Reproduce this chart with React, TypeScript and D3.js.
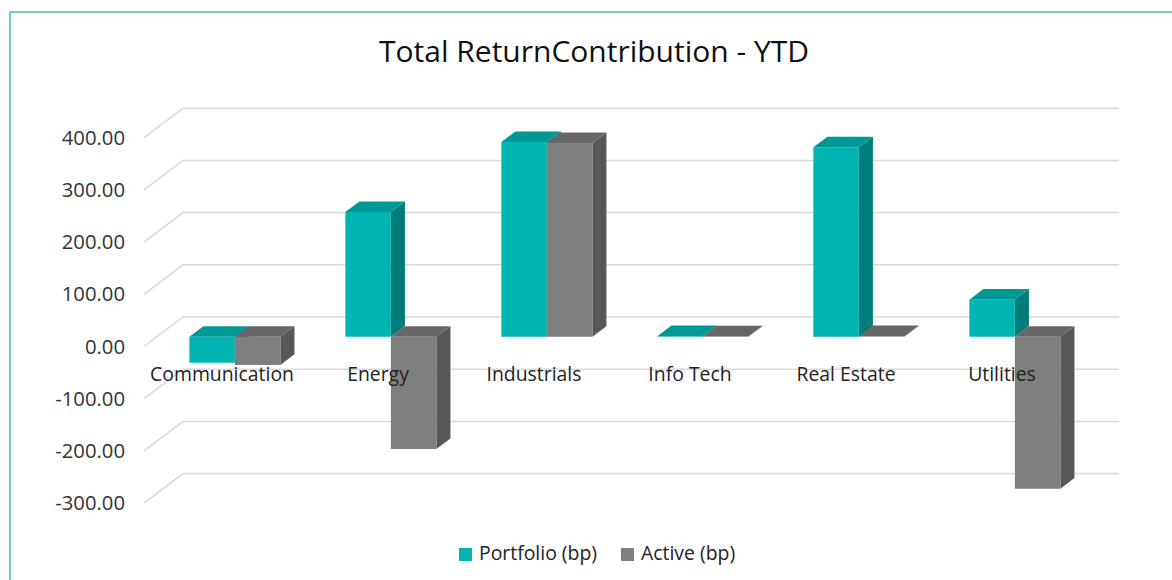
import React from "react";
import * as d3 from "d3";

const categories = ["Communication", "Energy", "Industrials", "Info Tech", "Real Estate", "Utilities"];
const portfolio = [-50, 239, 373, 1, 363, 71];
const active = [-54, -215, 371, 0.6, 1, -291];
const ticks = [400, 300, 200, 100, 0, -100, -200, -300];
const seriesNames = ["Portfolio (bp)", "Active (bp)"];

const W = 1172, H = 580;
const DX = 39, DY = 29.5; // depth offset of back wall
const Z0 = 0.33, Z1 = 0.69; // bar front/back depth
const FONT = "'Open Sans', Lato, sans-serif";

const colors = [
  { front: "#00b5b1", top: "#009894", side: "#007d7a" },
  { front: "#7f7f7f", top: "#666666", side: "#575757" },
];

const fmt = (v: number) => d3.format(".2f")(v).replace("\u2212", "-");

export default function App() {
  const x = d3.scaleBand<string>().domain(categories).range([144, 1080]).paddingInner(0).paddingOuter(0);
  const y = d3.scaleLinear().domain([-300, 400]).range([503.1, 137.7]);
  const P = (px: number, v: number, z: number) => [px + z * DX, y(v) - z * DY];
  const pts = (arr: number[][]) => arr.map((p) => p.join(",")).join(" ");
  const barW = 45.5;
  const series = [portfolio, active];

  const bars: JSX.Element[] = [];
  categories.forEach((c, i) => {
    const center = (x(c) as number) + x.bandwidth() / 2;
    series.forEach((s, k) => {
      const v = s[i];
      const x0 = center - barW + k * barW;
      const x1 = x0 + barW;
      const vt = Math.max(v, 0), vb = Math.min(v, 0);
      const col = colors[k];
      bars.push(
        <g key={c + k}>
          <polygon points={pts([P(x1, vt, Z0), P(x1, vt, Z1), P(x1, vb, Z1), P(x1, vb, Z0)])} fill={col.side} />
          <polygon points={pts([P(x0, vt, Z0), P(x1, vt, Z0), P(x1, vt, Z1), P(x0, vt, Z1)])} fill={col.top} />
          <polygon points={pts([P(x0, vt, Z0), P(x1, vt, Z0), P(x1, vb, Z0), P(x0, vb, Z0)])} fill={col.front} />
        </g>
      );
    });
  });

  return (
    <svg width={W} height={H} style={{ position: "absolute", left: 0, top: 0, background: "#fff" }}>
      <rect x={10} y={12} width={W + 20} height={H + 20} fill="#fff" stroke="#3fbfbd" strokeWidth={1.5} />
      <text x={594} y={62} textAnchor="middle" fontFamily={FONT} fontSize={30} fill="#111">
        Total ReturnContribution - YTD
      </text>
      {ticks.map((t) => (
        <g key={t}>
          <polyline
            points={pts([P(144, t, 0), P(144, t, 1), P(1080, t, 1)])}
            fill="none"
            stroke="#d9d9d9"
            strokeWidth={1.5}
          />
          <text x={125} y={y(t) + 7} textAnchor="end" fontFamily={FONT} fontSize={20.3} fill="#333">
            {fmt(t)}
          </text>
        </g>
      ))}
      {bars}
      {categories.map((c) => (
        <text
          key={c}
          x={(x(c) as number) + x.bandwidth() / 2}
          y={381}
          textAnchor="middle"
          fontFamily={FONT}
          fontSize={19.4}
          fill="#222"
        >
          {c}
        </text>
      ))}
      {seriesNames.map((n, k) => {
        const lx = [459, 621][k];
        return (
          <g key={n}>
            <rect x={lx} y={548} width={13} height={13} fill={colors[k].front} />
            <text x={lx + 20} y={560} fontFamily={FONT} fontSize={19.4} fill="#222">
              {n}
            </text>
          </g>
        );
      })}
    </svg>
  );
}
